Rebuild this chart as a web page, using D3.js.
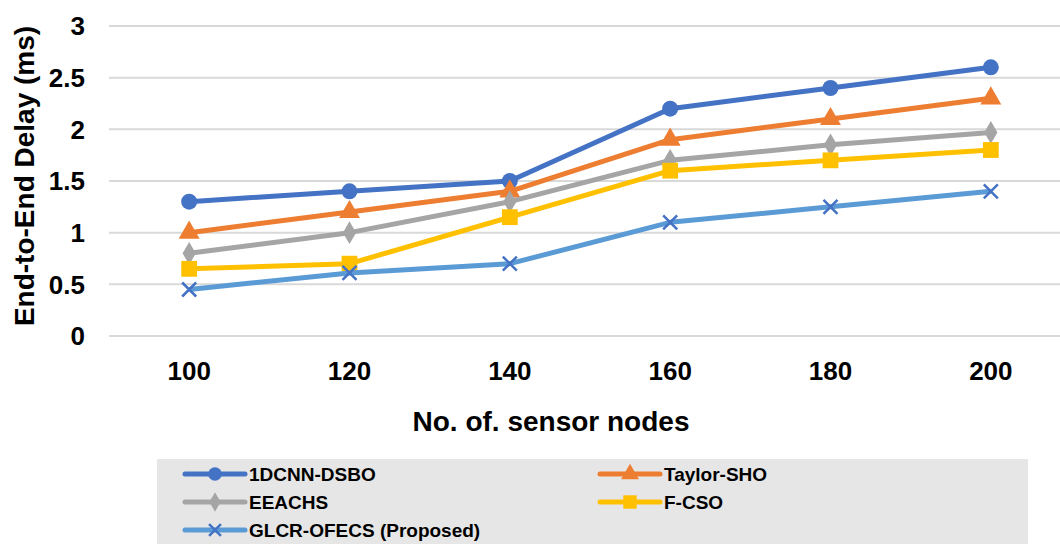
<!DOCTYPE html>
<html>
<head>
<meta charset="utf-8">
<script src="https://cdn.jsdelivr.net/npm/d3@7"></script>
<style>
  body { margin: 0; background: #fff; }
  svg { display: block; font-family: "Liberation Sans", Arial, sans-serif; }
</style>
</head>
<body>
<svg id="chart" width="1060" height="544"></svg>
<script>
var nodes = [100, 120, 140, 160, 180, 200]
var yTicks = [0, 0.5, 1, 1.5, 2, 2.5, 3]

var dsbo = [1.3, 1.4, 1.5, 2.2, 2.4, 2.6]
var taylor = [1.0, 1.2, 1.4, 1.9, 2.1, 2.3]
var eeachs = [0.8, 1.0, 1.3, 1.7, 1.85, 1.97]
var fcso = [0.65, 0.7, 1.15, 1.6, 1.7, 1.8]
var glcr = [0.45, 0.61, 0.7, 1.1, 1.25, 1.4]

var seriesNames = ['1DCNN-DSBO', 'Taylor-SHO', 'EEACHS', 'F-CSO', 'GLCR-OFECS (Proposed)']

var series = [
  { name: seriesNames[0], values: dsbo, color: '#4472C4', mark: '#4472C4', symbol: 'circle' },
  { name: seriesNames[1], values: taylor, color: '#ED7D31', mark: '#ED7D31', symbol: 'triangle' },
  { name: seriesNames[2], values: eeachs, color: '#A5A5A5', mark: '#A5A5A5', symbol: 'diamond' },
  { name: seriesNames[3], values: fcso, color: '#FFC000', mark: '#FFC000', symbol: 'square' },
  { name: seriesNames[4], values: glcr, color: '#5B9BD5', mark: '#4472C4', symbol: 'x' }
]

var svg = d3.select('#chart')
var plotLeft = 109, plotRight = 1071, plotTop = 26, plotBottom = 336

var x = d3.scaleBand()
    .domain(nodes)
    .range([plotLeft, plotRight])

var y = d3.scaleLinear()
    .domain([0, 3])
    .range([plotBottom, plotTop])

// gridlines
svg.append('g')
  .selectAll('line')
  .data(yTicks)
  .enter().append('line')
    .attr('x1', plotLeft)
    .attr('x2', plotRight)
    .attr('y1', function(d) { return y(d) })
    .attr('y2', function(d) { return y(d) })
    .attr('stroke', '#d9d9d9')
    .attr('stroke-width', 2)

// y tick labels
svg.append('g')
  .selectAll('text')
  .data(yTicks)
  .enter().append('text')
    .attr('x', 85)
    .attr('y', function(d) { return y(d) })
    .attr('dy', '0.36em')
    .attr('text-anchor', 'end')
    .attr('font-size', 26)
    .attr('font-weight', 'bold')
    .text(function(d) { return d })

// x tick labels
svg.append('g')
  .selectAll('text')
  .data(nodes)
  .enter().append('text')
    .attr('x', function(d) { return x(d) + x.bandwidth() / 2 })
    .attr('y', 380)
    .attr('text-anchor', 'middle')
    .attr('font-size', 26)
    .attr('font-weight', 'bold')
    .text(function(d) { return d })

// axis titles
svg.append('text')
    .attr('x', 551)
    .attr('y', 431)
    .attr('text-anchor', 'middle')
    .attr('font-size', 28)
    .attr('font-weight', 'bold')
    .text('No. of. sensor nodes')

svg.append('text')
    .attr('transform', 'translate(34, 176) rotate(-90)')
    .attr('text-anchor', 'middle')
    .attr('font-size', 28)
    .attr('font-weight', 'bold')
    .text('End-to-End Delay (ms)')

function drawMarker(g, s, cx, cy, scale) {
  var k = scale || 1
  if (s.symbol == 'x') {
    var r = 7 * k
    g.append('path')
      .attr('d', `M${cx - r},${cy - r}L${cx + r},${cy + r}M${cx - r},${cy + r}L${cx + r},${cy - r}`)
      .attr('stroke', s.mark)
      .attr('stroke-width', 2.5)
      .attr('fill', 'none')
    return
  }
  var sym = {
    circle: d3.symbolCircle,
    triangle: d3.symbolTriangle,
    diamond: d3.symbolDiamond,
    square: d3.symbolSquare
  }[s.symbol]
  var size = { circle: 200, triangle: 190, diamond: 150, square: 250 }[s.symbol] * k * k
  g.append('path')
    .attr('transform', `translate(${cx},${cy})`)
    .attr('d', d3.symbol().type(sym).size(size)())
    .attr('fill', s.mark)
}

var line = d3.line()
    .x(function(d, i) { return x(nodes[i]) + x.bandwidth() / 2 })
    .y(function(d) { return y(d) })

var plot = svg.append('g')

series.forEach(function(s) {
  plot.append('path')
      .datum(s.values)
      .attr('d', line)
      .attr('fill', 'none')
      .attr('stroke', s.color)
      .attr('stroke-width', 5)
      .attr('stroke-linejoin', 'round')
  s.values.forEach(function(v, i) {
    drawMarker(plot, s, x(nodes[i]) + x.bandwidth() / 2, y(v))
  })
})

// legend
var legend = svg.append('g')
legend.append('rect')
    .attr('x', 157)
    .attr('y', 459)
    .attr('width', 871)
    .attr('height', 90)
    .attr('fill', '#e6e6e6')

var cols = [185, 600], rows = [474, 502, 530]
series.forEach(function(s, i) {
  var lx = cols[i % 2], ly = rows[Math.floor(i / 2)]
  var item = legend.append('g')
  item.append('line')
      .attr('x1', lx)
      .attr('x2', lx + 60)
      .attr('y1', ly)
      .attr('y2', ly)
      .attr('stroke', s.color)
      .attr('stroke-width', 5)
      .attr('stroke-linecap', 'round')
  drawMarker(item, s, lx + 30, ly, 0.85)
  item.append('text')
      .attr('x', lx + 64)
      .attr('y', ly)
      .attr('dy', '0.35em')
      .attr('font-size', 19)
      .attr('font-weight', 'bold')
      .text(s.name)
})
</script>
</body>
</html>
